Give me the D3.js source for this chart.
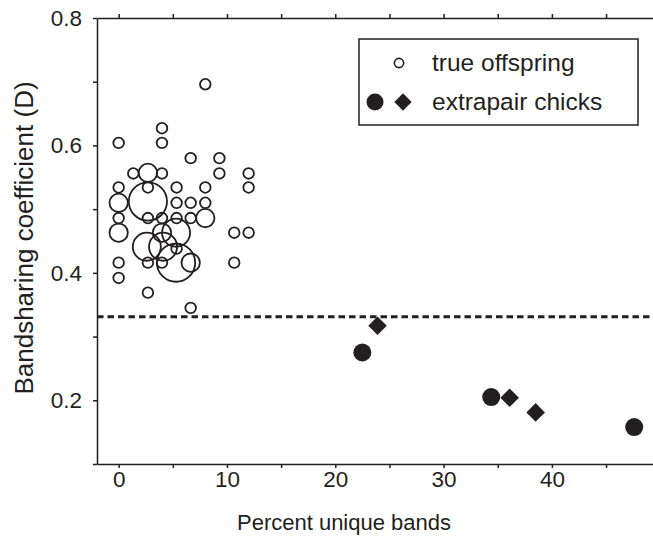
<!DOCTYPE html>
<html><head><meta charset="utf-8">
<script src="https://cdn.jsdelivr.net/npm/d3@7"></script>
<style>
body{margin:0;background:#fff}
svg{display:block}
text{font-family:"Liberation Sans",Arial,Helvetica,sans-serif;fill:#231f20}
</style>
</head><body>
<svg id="chart" width="653" height="539"></svg>
<script>
// ---- data ----
// true offspring: percent unique bands, bandsharing D, number of overlapping chicks
const offspringX = [8.0, 4.0, 0, 4.0, 6.65, 9.3,
  1.35, 2.7, 4.0, 9.3, 12.0,
  0, 2.7, 5.35, 8.0, 12.0,
  0, 2.7, 5.35, 6.65, 8.0,
  0, 2.7, 4.0, 5.35, 6.65, 8.0,
  0, 4.0, 5.3, 10.67, 12.0,
  2.6, 4.1, 5.35,
  0, 2.7, 4.0, 5.3, 6.65, 10.67,
  0, 2.7, 6.65];
const offspringY = [0.696, 0.627, 0.604, 0.604, 0.580, 0.580,
  0.556, 0.557, 0.556, 0.556, 0.556,
  0.534, 0.534, 0.534, 0.534, 0.534,
  0.510, 0.512, 0.510, 0.510, 0.510,
  0.486, 0.486, 0.486, 0.486, 0.486, 0.486,
  0.463, 0.463, 0.463, 0.463, 0.463,
  0.441, 0.441, 0.438,
  0.416, 0.416, 0.416, 0.416, 0.416, 0.416,
  0.392, 0.369, 0.345];
const offspringN = [1, 1, 1, 1, 1, 1,
  1, 3, 1, 1, 1,
  1, 1, 1, 1, 1,
  3, 13, 1, 1, 1,
  1, 1, 1, 1, 1, 3,
  3, 3, 7, 1, 1,
  7, 7, 1,
  1, 1, 1, 13, 3, 1,
  1, 1, 1];
// extrapair chicks
const epCircleX = [22.5, 34.4, 47.6];
const epCircleY = [0.275, 0.205, 0.158];
const epDiamondX = [23.9, 36.1, 38.5];
const epDiamondY = [0.317, 0.204, 0.181];
const thresholdD = 0.331;

const xTicks = [0, 5, 10, 15, 20, 25, 30, 35, 40, 45];
const xLabels = [0, 10, 20, 30, 40];
const yTicks = [0.1, 0.2, 0.3, 0.4, 0.5, 0.6, 0.7, 0.8];
const yLabels = [0.2, 0.4, 0.6, 0.8];
const xTitle = "Percent unique bands";
const yTitle = "Bandsharing coefficient (D)";
const legendLabels = ["true offspring", "extrapair chicks"];

// ---- drawing ----
const ink = "#231f20";
const svg = d3.select("#chart");
const x = d3.scaleLinear().domain([-2, 50]).range([97, 660.2]);
const y = d3.scaleLinear().domain([0.1, 0.8]).range([464, 18]);
const r = d3.scaleSqrt().domain([0, 1]).range([0, 5.3]);
const fs = 22.5;

function styleAxis(g) {
  g.selectAll("path,line").attr("stroke", ink).attr("stroke-width", 1.5);
  g.selectAll("text").attr("font-size", fs).attr("fill", ink)
    .attr("font-family", '"Liberation Sans",Arial,Helvetica,sans-serif');
}

svg.append("g").attr("transform", `translate(0,${y(0.8)})`)
  .call(d3.axisTop(x).tickValues(xTicks).tickSize(4).tickSizeOuter(0).tickFormat(""))
  .call(styleAxis);
svg.append("g").attr("transform", `translate(0,${y(0.1)})`)
  .call(d3.axisBottom(x).tickValues(xTicks).tickSize(4).tickSizeOuter(0).tickPadding(3)
    .tickFormat(d => xLabels.includes(d) ? d : ""))
  .call(styleAxis);
svg.append("g").attr("transform", `translate(${x(-2)},0)`)
  .call(d3.axisLeft(y).tickValues(yTicks).tickSize(4).tickSizeOuter(0).tickPadding(11)
    .tickFormat(d => yLabels.some(v => Math.abs(v - d) < 1e-9) ? d3.format(".1f")(d) : ""))
  .call(styleAxis);

svg.append("text").attr("x", 344).attr("y", 530).attr("text-anchor", "middle")
  .attr("font-size", 22).text(xTitle);
svg.append("text").attr("transform", `translate(33,238) rotate(-90)`)
  .attr("text-anchor", "middle").attr("font-size", 26).text(yTitle);

// threshold dashed line
svg.append("line").attr("x1", x(-2)).attr("x2", 653)
  .attr("y1", y(thresholdD)).attr("y2", y(thresholdD))
  .attr("stroke", ink).attr("stroke-width", 3).attr("stroke-dasharray", "6.5,4");

// true offspring
svg.append("g").selectAll("circle").data(offspringX.map((v, i) => i)).join("circle")
  .attr("cx", i => x(offspringX[i])).attr("cy", i => y(offspringY[i]))
  .attr("r", i => r(offspringN[i]))
  .attr("fill", "none").attr("stroke", ink).attr("stroke-width", 1.8);

// extrapair chicks
svg.append("g").selectAll("circle").data(epCircleX.map((v, i) => i)).join("circle")
  .attr("cx", i => x(epCircleX[i])).attr("cy", i => y(epCircleY[i])).attr("r", 9)
  .attr("fill", ink);
const diamond = d3.symbol(d3.symbolSquare, 172);
svg.append("g").selectAll("path").data(epDiamondX.map((v, i) => i)).join("path")
  .attr("d", diamond)
  .attr("transform", i => `translate(${x(epDiamondX[i])},${y(epDiamondY[i])}) rotate(45)`)
  .attr("fill", ink);

// legend
const lg = svg.append("g");
lg.append("rect").attr("x", 359).attr("y", 39).attr("width", 279).attr("height", 86)
  .attr("fill", "#fff").attr("stroke", ink).attr("stroke-width", 1.5);
lg.append("circle").attr("cx", 399).attr("cy", 63).attr("r", 4.6)
  .attr("fill", "none").attr("stroke", ink).attr("stroke-width", 1.6);
lg.append("circle").attr("cx", 375).attr("cy", 102).attr("r", 8.5).attr("fill", ink);
lg.append("path").attr("d", d3.symbol(d3.symbolSquare, 150))
  .attr("transform", "translate(403,102) rotate(45)").attr("fill", ink);
lg.selectAll("text.lab").data(legendLabels).join("text").attr("class", "lab")
  .attr("x", 432).attr("y", (d, i) => 71 + i * 39).attr("font-size", 24.5).text(d => d);
</script>
</body></html>
